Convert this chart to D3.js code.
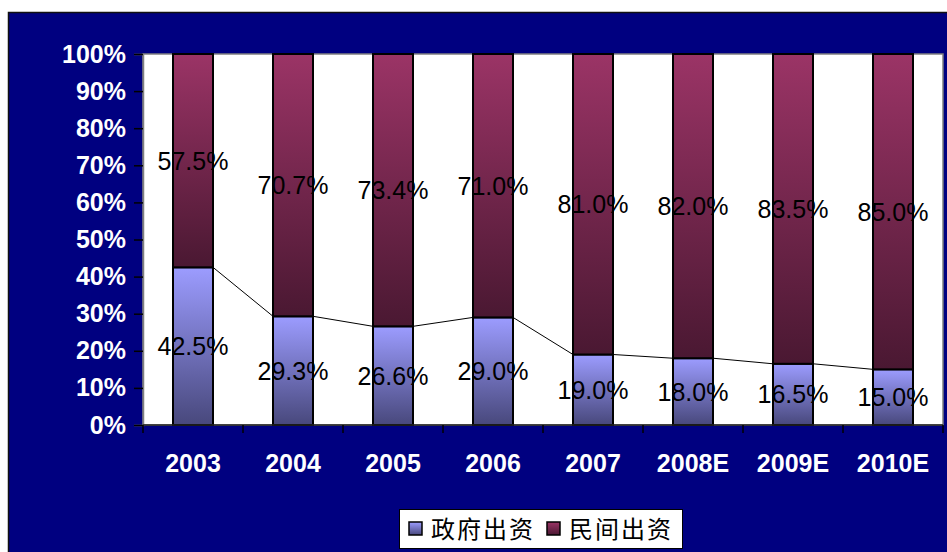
<!DOCTYPE html>
<html>
<head>
<meta charset="utf-8">
<script src="https://cdn.jsdelivr.net/npm/d3@7"></script>
<style>
  html, body { margin: 0; padding: 0; background: #fff; }
  svg { display: block; }
</style>
</head>
<body>
<div id="root"></div>
<script>
const svgWidth = 947;
const svgHeight = 552;

// data
const years = ["2003", "2004", "2005", "2006", "2007", "2008E", "2009E", "2010E"];
const government = [42.5, 29.3, 26.6, 29.0, 19.0, 18.0, 16.5, 15.0];
const privateInv = [57.5, 70.7, 73.4, 71.0, 81.0, 82.0, 83.5, 85.0];
const yTicks = [0, 10, 20, 30, 40, 50, 60, 70, 80, 90, 100];
const seriesNames = ["政府出资", "民间出资"];

const plot = { left: 143, right: 943, top: 54, bottom: 425 };

const xScale = d3.scaleBand()
  .domain(years)
  .range([plot.left, plot.right])
  .paddingInner(0.6)
  .paddingOuter(0.3);

const yScale = d3.scaleLinear()
  .domain([0, 100])
  .range([plot.bottom, plot.top]);

const svg = d3.select("#root")
  .append("svg")
  .attr("width", svgWidth)
  .attr("height", svgHeight);

const defs = svg.append("defs");
const addGradient = (id, top, bottom) => {
  const g = defs.append("linearGradient")
    .attr("id", id)
    .attr("x1", 0).attr("y1", 0).attr("x2", 0).attr("y2", 1);
  g.append("stop").attr("offset", "0%").attr("stop-color", top);
  g.append("stop").attr("offset", "100%").attr("stop-color", bottom);
};
addGradient("gradGov", "#9c9cff", "#48487c");
addGradient("gradPriv", "#9b3466", "#4a1832");

// navy background panel
svg.append("rect")
  .attr("x", 8.5).attr("y", 12.5)
  .attr("width", svgWidth + 10).attr("height", svgHeight + 10)
  .attr("fill", "#000080")
  .attr("stroke", "#111")
  .attr("stroke-width", 1.5);

// plot area
svg.append("rect")
  .attr("x", plot.left).attr("y", plot.top)
  .attr("width", plot.right - plot.left).attr("height", plot.bottom - plot.top)
  .attr("fill", "#fff")
  .attr("stroke", "#808080")
  .attr("stroke-width", 1.5);

// stacked bars
const bars = svg.append("g");
bars.selectAll("rect.gov")
  .data(government)
  .join("rect")
  .attr("class", "gov")
  .attr("x", (d, i) => xScale(years[i]))
  .attr("y", d => yScale(d))
  .attr("width", xScale.bandwidth())
  .attr("height", d => yScale(0) - yScale(d))
  .attr("fill", "url(#gradGov)")
  .attr("stroke", "#000")
  .attr("stroke-width", 2);

bars.selectAll("rect.priv")
  .data(privateInv)
  .join("rect")
  .attr("class", "priv")
  .attr("x", (d, i) => xScale(years[i]))
  .attr("y", (d, i) => yScale(government[i] + d))
  .attr("width", xScale.bandwidth())
  .attr("height", (d, i) => yScale(government[i]) - yScale(government[i] + d))
  .attr("fill", "url(#gradPriv)")
  .attr("stroke", "#000")
  .attr("stroke-width", 2);

// series lines between the tops of the government segments
const links = d3.pairs(d3.range(years.length));
svg.append("g")
  .selectAll("line")
  .data(links)
  .join("line")
  .attr("x1", d => xScale(years[d[0]]) + xScale.bandwidth())
  .attr("y1", d => yScale(government[d[0]]))
  .attr("x2", d => xScale(years[d[1]]))
  .attr("y2", d => yScale(government[d[1]]))
  .attr("stroke", "#000")
  .attr("stroke-width", 1);

// data labels
const labelFont = "Arial, 'Liberation Sans', sans-serif";
svg.append("g")
  .selectAll("text")
  .data(government)
  .join("text")
  .attr("x", (d, i) => xScale(years[i]) + xScale.bandwidth() / 2)
  .attr("y", d => yScale(d / 2))
  .attr("dy", "0.36em")
  .attr("text-anchor", "middle")
  .attr("font-family", labelFont)
  .attr("font-size", "25px")
  .attr("fill", "#000")
  .text(d => d.toFixed(1) + "%");

svg.append("g")
  .selectAll("text")
  .data(privateInv)
  .join("text")
  .attr("x", (d, i) => xScale(years[i]) + xScale.bandwidth() / 2)
  .attr("y", (d, i) => yScale(government[i] + d / 2))
  .attr("dy", "0.36em")
  .attr("text-anchor", "middle")
  .attr("font-family", labelFont)
  .attr("font-size", "25px")
  .attr("fill", "#000")
  .text(d => d.toFixed(1) + "%");

// y axis
const yAxis = svg.append("g")
  .attr("transform", `translate(${plot.left},0)`)
  .call(d3.axisLeft(yScale).tickValues(yTicks).tickFormat(d => d + "%").tickSize(9).tickPadding(8));
yAxis.select(".domain").attr("stroke", "#808080").attr("stroke-width", 1.5);
yAxis.selectAll(".tick line").attr("stroke", "#000").attr("stroke-width", 1.5);
yAxis.selectAll(".tick text")
  .attr("fill", "#fff")
  .attr("font-family", labelFont)
  .attr("font-weight", "bold")
  .attr("font-size", "25px");

// x axis, ticks at category boundaries
const step = xScale.step();
const boundaries = d3.range(years.length + 1).map(i => plot.left + i * step);
const xAxis = svg.append("g");
xAxis.append("line")
  .attr("x1", plot.left).attr("x2", plot.right)
  .attr("y1", plot.bottom).attr("y2", plot.bottom)
  .attr("stroke", "#222").attr("stroke-width", 1.5);
xAxis.selectAll("line.tick")
  .data(boundaries)
  .join("line")
  .attr("class", "tick")
  .attr("x1", d => d).attr("x2", d => d)
  .attr("y1", plot.bottom).attr("y2", plot.bottom + 8)
  .attr("stroke", "#000").attr("stroke-width", 1.5);
xAxis.selectAll("text")
  .data(years)
  .join("text")
  .attr("x", d => xScale(d) + xScale.bandwidth() / 2)
  .attr("y", 472)
  .attr("text-anchor", "middle")
  .attr("fill", "#fff")
  .attr("font-family", labelFont)
  .attr("font-weight", "bold")
  .attr("font-size", "25px")
  .text(d => d);

// legend
const legend = svg.append("g").attr("transform", "translate(399,509)");
legend.append("rect")
  .attr("x", 0.5).attr("y", 0.5)
  .attr("width", 283).attr("height", 39)
  .attr("fill", "#fff")
  .attr("stroke", "#000")
  .attr("stroke-width", 1);
const legendItems = [
  { name: seriesNames[0], fill: "url(#gradGov)", x: 10 },
  { name: seriesNames[1], fill: "url(#gradPriv)", x: 148 }
];
const item = legend.selectAll("g.item")
  .data(legendItems)
  .join("g")
  .attr("class", "item")
  .attr("transform", d => `translate(${d.x},0)`);
item.append("rect")
  .attr("x", 0).attr("y", 13)
  .attr("width", 13).attr("height", 13)
  .attr("fill", d => d.fill)
  .attr("stroke", "#000")
  .attr("stroke-width", 1.5);
item.append("text")
  .attr("x", 22).attr("y", 20)
  .attr("dy", "0.36em")
  .attr("font-family", "'Noto Sans CJK SC', sans-serif")
  .attr("font-size", "24px")
  .attr("letter-spacing", "2px")
  .attr("fill", "#000")
  .text(d => d.name);
</script>
</body>
</html>
